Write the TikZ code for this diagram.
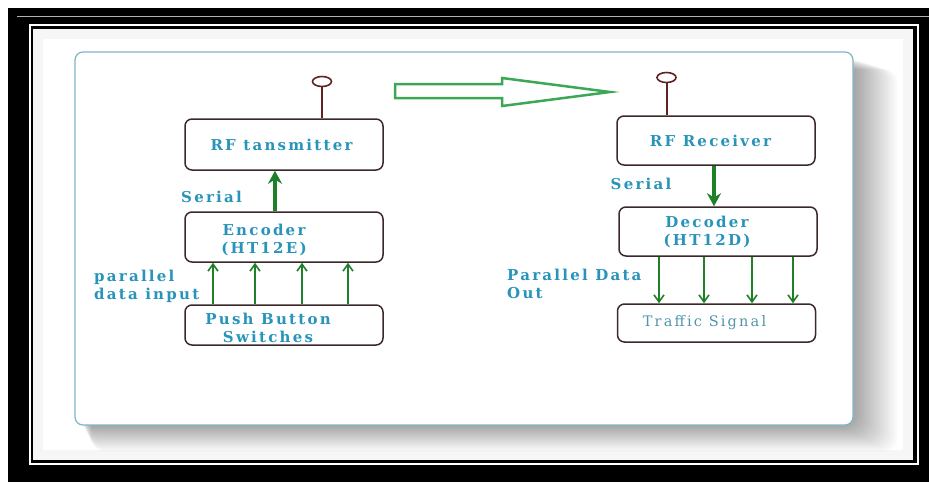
\documentclass[tikz,border=0pt]{standalone}
\usepackage{fontspec}
\setmainfont{DejaVu Serif}
\newfontfamily\lblface{DejaVu Serif}[LetterSpace=15]
\usetikzlibrary{arrows.meta,shapes.geometric}

\definecolor{labelteal}{RGB}{40,148,185}
\definecolor{signalteal}{RGB}{80,150,170}
\definecolor{boxline}{RGB}{60,40,40}
\definecolor{antred}{RGB}{95,35,35}
\definecolor{wiregreen}{RGB}{30,128,40}
\definecolor{hollowgreen}{RGB}{60,168,85}
\definecolor{panelline}{RGB}{125,180,200}

\newcommand{\lblfont}{\lblface\fontsize{15}{18}\selectfont\bfseries}
\newcommand{\sigfont}{\lblface\fontsize{14.5}{18}\selectfont}

\tikzset{
  blockbox/.style={draw=boxline,line width=1.5pt,rounded corners=7pt,minimum width=198pt,inner sep=0pt},
  boxtext/.style={text=labelteal,font=\lblfont,align=center,inner sep=0pt},
  sidetext/.style={text=labelteal,font=\lblfont,align=left,inner sep=0pt},
  antennatop/.style={draw=antred,line width=1.6pt,ellipse,minimum width=19pt,minimum height=10pt,inner sep=0pt},
  antennastem/.style={draw=antred,line width=2pt},
  serialarrow/.style={draw=wiregreen,line width=3.5pt,-{Stealth[length=13pt,width=14pt]}},
  pararrow/.style={draw=wiregreen,line width=1.6pt,-{Straight Barb[length=7pt,width=10pt]}}
}

\begin{document}
\begin{tikzpicture}[x=1pt,y=-1pt]
\useasboundingbox (0,0) rectangle (929,483);
% frame
\fill[black] (8,8) rectangle (929,482);
\draw[gray!60,line width=0.8pt] (17,16.5) -- (929,16.5);
\draw[white,line width=2pt] (30,25) rectangle (918,464);
\fill[white] (33,29) rectangle (913,460);
\foreach \s in {0,1,...,9}
  \draw[black,opacity=0.035,line width=1pt] (33.5+\s,29.5+\s) rectangle (912.5-\s,459.5-\s);
% panel with soft shadow
\foreach \s in {1.5,3,...,45}
  \fill[black,opacity=0.012,rounded corners=14pt] (78+0.3*\s,56+0.3*\s) rectangle (853+\s,425+0.6*\s);
\draw[panelline,line width=1.2pt,fill=white,rounded corners=8pt] (75,52) rectangle (853,425);
% big hollow arrow
\draw[hollowgreen,line width=2.5pt,fill=white,line join=miter] (395,84) -- (502,84) -- (502,78) -- (610,92) -- (502,106) -- (502,98) -- (395,98) -- cycle;

% transmitter side
\draw (284,144.5) node[blockbox,minimum height=51pt,label={[boxtext,xshift=-2.5pt]center:RF tansmitter}](rftx) {};
\draw (284,237) node[blockbox,minimum height=50pt,label={[boxtext,xshift=-20pt,yshift=-3pt]center:{Encoder\\(HT12E)}}](enc) {};
\draw (284,325) node[blockbox,minimum height=40pt,label={[boxtext,xshift=-16pt,yshift=-2.5pt]center:{Push Button\\Switches}}](push) {};
\draw (322,81.5) node[antennatop](lant) {};
\draw[antennastem] ([xshift=38pt]rftx.north) -- (lant.south);
\draw (211.5,197) node[sidetext](ser1) {Serial};
\draw (94,286) node[sidetext,anchor=west](par1) {parallel\\data input};
\draw[serialarrow] ([xshift=-9pt]enc.north) -- ([xshift=-9pt]rftx.south);
\foreach \dx in {-71,-29,18,64}
  \draw[pararrow] ([xshift=\dx pt]push.north) -- ([xshift=\dx pt]enc.south);

% receiver side
\draw (716,140.5) node[blockbox,minimum height=49pt,label={[boxtext,xshift=-5.5pt]center:RF Receiver}](rfrx) {};
\draw (718,231.5) node[blockbox,minimum height=49pt,label={[boxtext,xshift=-11pt]center:{Decoder\\(HT12D)}}](dec) {};
\draw (716.5,323) node[blockbox,minimum height=38pt,label={[boxtext,text=signalteal,font=\sigfont,xshift=-12pt]center:Traffic Signal}](sig) {};
\draw (666.5,77.5) node[antennatop](rant) {};
\draw[antennastem] ([xshift=-49.5pt]rfrx.north) -- (rant.south);
\draw (641,183.5) node[sidetext](ser2) {Serial};
\draw (507,283.5) node[sidetext,anchor=west](par2) {Parallel Data\\Out};
\draw[serialarrow] ([xshift=-2pt]rfrx.south) -- ([xshift=-2pt]rfrx.south |- dec.north);
\foreach \dx in {-59,-14,34,75}
  \draw[pararrow] ([xshift=\dx pt]dec.south) -- ([xshift=\dx pt]dec.south |- sig.north);
\end{tikzpicture}
\end{document}
